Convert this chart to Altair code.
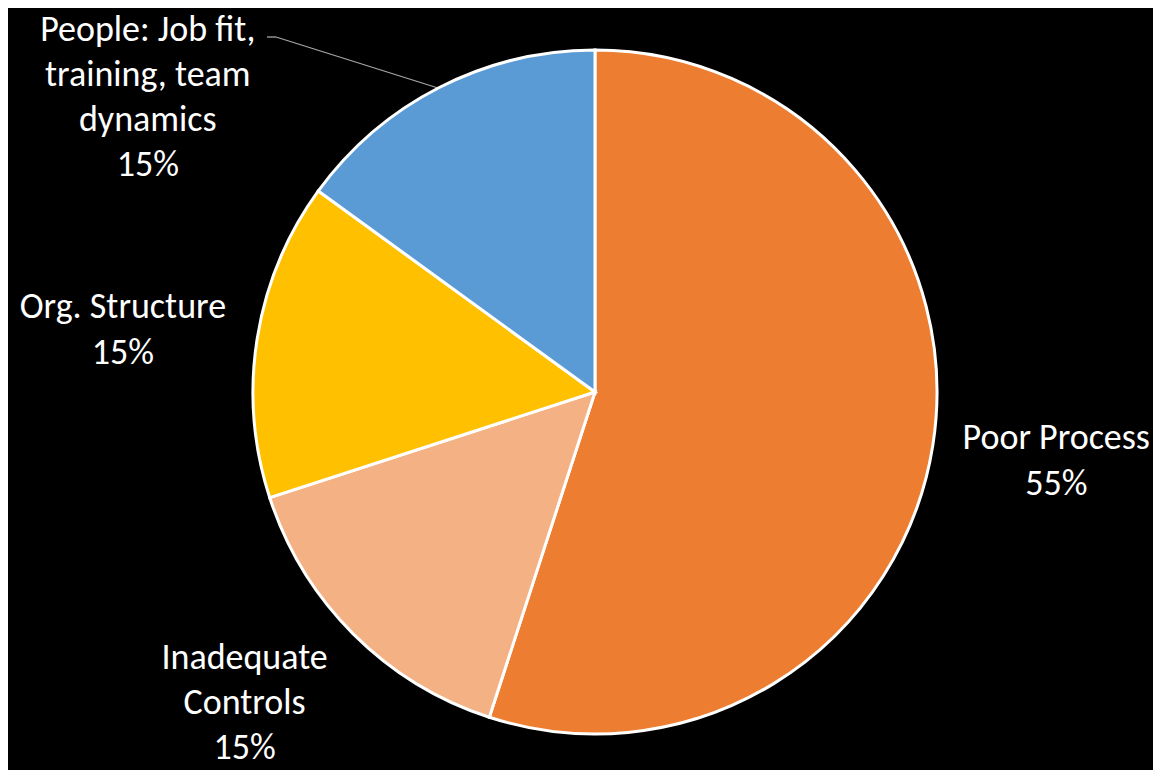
import altair as alt
import pandas as pd

categories = ["Poor Process", "Inadequate Controls", "Org. Structure", "People: Job fit, training, team dynamics"]
labels = ["Poor Process\n55%", "Inadequate\nControls\n15%", "Org. Structure\n15%", "People: Job fit,\ntraining, team\ndynamics\n15%"]
values = [55, 15, 15, 15]
colors = ["#ED7D31", "#F4B183", "#FFC000", "#5B9BD5"]

df = pd.DataFrame({"category": categories, "label": labels, "value": values, "order": list(range(len(values)))})

FONT = "Calibri, Carlito, Lato, sans-serif"
theta_scale = alt.Scale(domain=[0, 100])

pie = alt.Chart(df).mark_arc(outerRadius=342, stroke="white", strokeWidth=3).encode(
    theta=alt.Theta("value:Q", stack=True, scale=theta_scale),
    order=alt.Order("order:Q"),
    color=alt.Color("category:N", scale=alt.Scale(domain=categories, range=colors), legend=None),
)

label_base = alt.Chart(df).transform_window(
    cum="sum(value)", sort=[alt.SortField("order")]
).transform_calculate(mid="datum.cum - datum.value / 2")

# per-label placement (dx, dy, radius, line height)
offsets = {
    "Poor Process": (0, -27, 467, 46),
    "Inadequate Controls": (-11, -73, 480, 45),
    "Org. Structure": (1, -10, 479, 46),
    "People: Job fit, training, team dynamics": (-252, 21, 430, 45),
}

texts = []
for cat, (dx, dy, r, lh) in offsets.items():
    t = label_base.transform_filter(alt.datum.category == cat).mark_text(
        radius=r, dx=dx, dy=dy, fontSize=36, font=FONT, color="white",
        lineBreak="\n", lineHeight=lh, align="center", baseline="middle",
    ).encode(
        theta=alt.Theta("mid:Q", scale=theta_scale),
        text="label:N",
    )
    texts.append(t)

# leader line (view coords)
leader_x = [230, 239]
leader_y = [23, 23]
leader_x2 = [239, 401]
leader_y2 = [23, 74]
leader = alt.Chart(pd.DataFrame({"x": leader_x, "y": leader_y, "x2": leader_x2, "y2": leader_y2})).mark_rule(
    color="#A6A6A6", strokeWidth=1.3
).encode(
    x=alt.X("x:Q", scale=None), y=alt.Y("y:Q", scale=None),
    x2="x2:Q", y2="y2:Q",
)

chart = alt.layer(leader, pie, *texts).properties(
    width=1116, height=756,
    padding={"left": 29, "top": 6, "right": 0, "bottom": 0},
    autosize=alt.AutoSizeParams(type="none"),
    background="black",
).configure_view(stroke=None)

chart.save("out.html", embed_options={"renderer": "svg", "actions": False})
